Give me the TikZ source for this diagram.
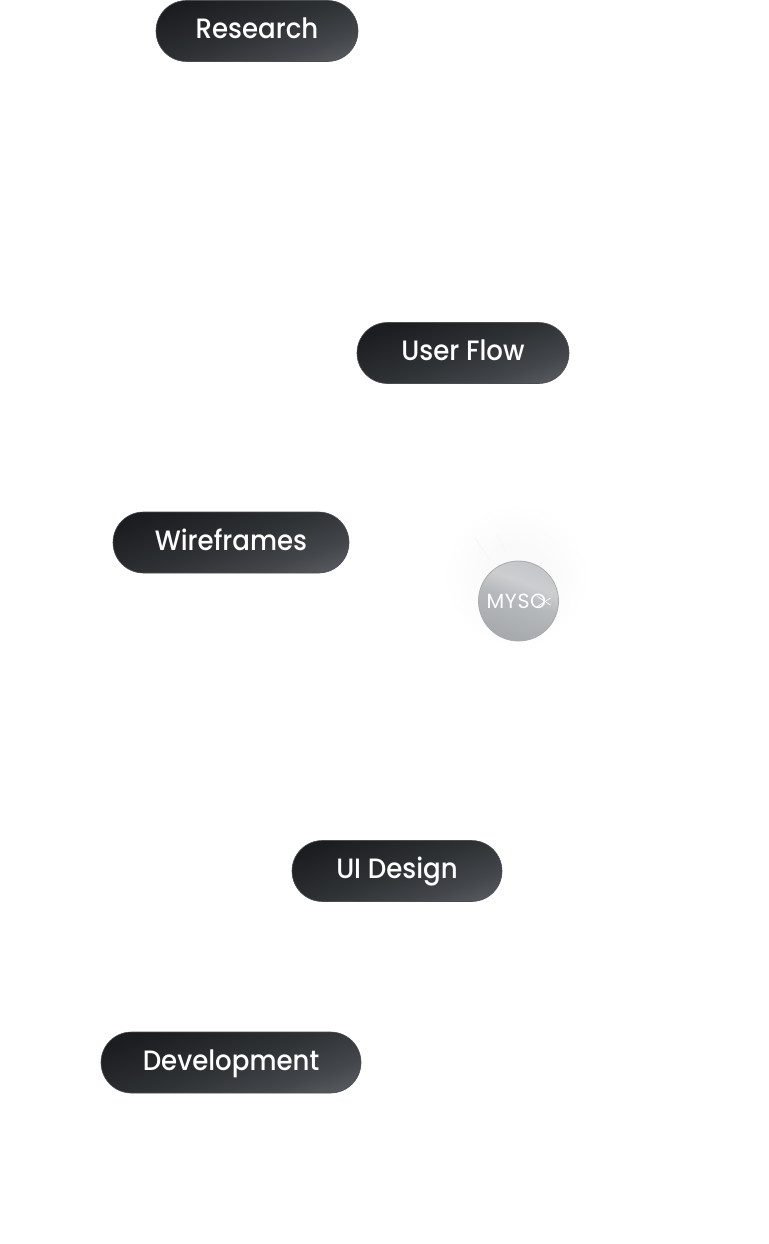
\documentclass[tikz,border=0pt]{standalone}
\usepackage{fontspec}
\setmainfont{Poppins}[UprightFont=* Medium,FakeStretch=0.93]
\newfontfamily\logofont{Poppins}[LetterSpace=3]
\usetikzlibrary{calc}
\definecolor{pilledge}{HTML}{4A4D50}
\definecolor{glowc}{HTML}{FAFAFA}
\definecolor{streakc}{HTML}{F7F7F7}
\definecolor{pa}{HTML}{1B1D20}
\definecolor{pb}{HTML}{2F3235}
\definecolor{pc}{HTML}{43464A}
\definecolor{pd}{HTML}{62666A}
\definecolor{da}{HTML}{A6A9AB}
\definecolor{db}{HTML}{B6B9BB}
\definecolor{dc}{HTML}{CCCED0}
\definecolor{dd}{HTML}{C3C6C8}
\definecolor{de}{HTML}{A8ABAD}
\pgfdeclareverticalshading{pillshade}{100bp}{
  color(0bp)=(pa);
  color(25bp)=(pa);
  color(50bp)=(pb);
  color(68bp)=(pc);
  color(85bp)=(pd);
  color(100bp)=(pd)}
\pgfdeclareverticalshading{discshade}{100bp}{
  color(0bp)=(da);
  color(25bp)=(da);
  color(50bp)=(db);
  color(62bp)=(dc);
  color(75bp)=(dd);
  color(100bp)=(dd)}
\pgfdeclareradialshading{glowshade}{\pgfpoint{0bp}{0bp}}{
  color(0bp)=(glowc);
  color(10bp)=(glowc);
  color(23bp)=(white);
  color(50bp)=(white)}
\tikzset{
  pill/.style={shape=rectangle,rounded corners=30.5pt,minimum height=61pt,inner sep=0pt,
    draw=pilledge,line width=.6pt,text height=15pt,text depth=0pt,
    shading=pillshade,shading angle=-160,
    text=white,font=\fontsize{28}{28}\selectfont},
  disc/.style={circle,minimum size=80pt,inner sep=0pt,draw=de,line width=.8pt,
    shading=discshade,shading angle=-20},
  logoword/.style={inner sep=0pt,text=white,font=\logofont\fontsize{20.5}{20.5}\selectfont},
  logocut/.style={draw=white,line width=.7pt},
  streak/.style={draw=streakc,line width=1pt}
}
\begin{document}
\begin{tikzpicture}[x=1pt,y=-1pt]
\useasboundingbox (0,0) rectangle (768,1244);
\shade[shading=glowshade] (436,495) rectangle (596,655);
\coordinate (sa) at (475,538);
\coordinate (sb) at (490,560);
\coordinate (sc) at (497,533);
\coordinate (sd) at (505,552);
\draw[streak] (sa) -- (sb);
\draw[streak] (sc) -- (sd);
\node[pill,minimum width=202pt] (research) at (257,31) {Research};
\node[pill,minimum width=212pt] (userflow) at (463,353) {User Flow};
\node[pill,minimum width=236pt] (wireframes) at (231,542.5) {Wireframes};
\node[pill,minimum width=210pt] (uidesign) at (397,871) {UI Design};
\node[pill,minimum width=260pt] (development) at (231,1062.5) {Development};
\node[disc] (logo) at (518.5,601) {};
\node[logoword,anchor=west] (myso) at (486.5,601.5) {MYSO};
\coordinate (cuta) at ($(myso.east)+(-9,-5)$);
\coordinate (cutb) at ($(myso.east)+(4,3.5)$);
\coordinate (cutc) at ($(myso.east)+(-9,5)$);
\coordinate (cutd) at ($(myso.east)+(4,-3.5)$);
\draw[logocut] (cuta) -- (cutb);
\draw[logocut] (cutc) -- (cutd);
\end{tikzpicture}
\end{document}
